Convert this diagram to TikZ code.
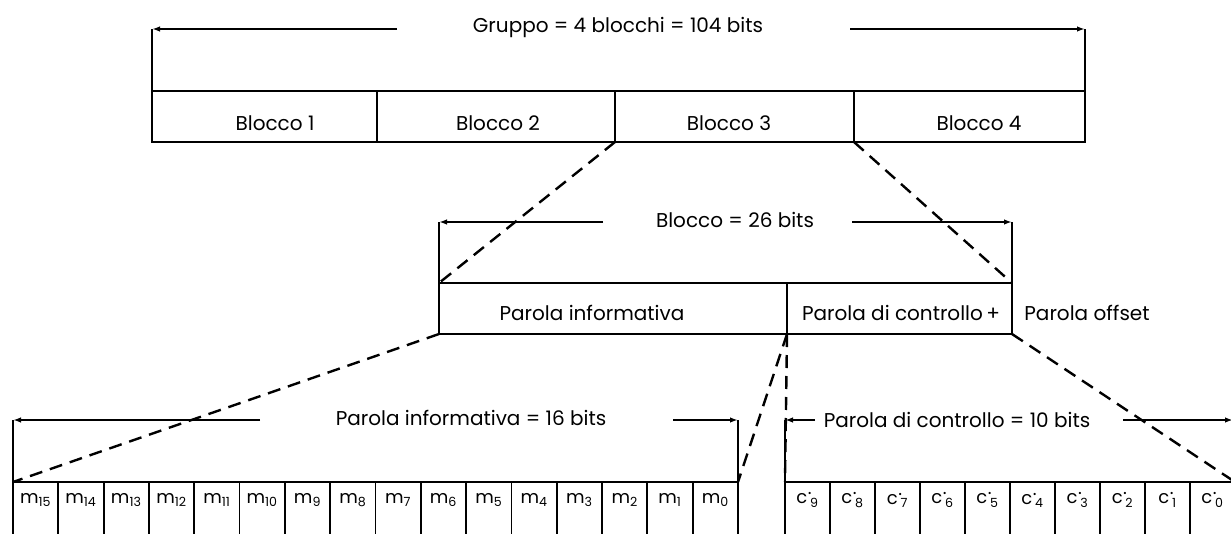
\documentclass[tikz,border=0pt]{standalone}
\usepackage{fontspec}
\setmainfont{Poppins}
\usetikzlibrary{arrows.meta}
\newcommand{\cprime}[1]{c\kern0.5pt\raisebox{0.5em}{.}\kern-1.5pt\textsubscript{#1}}
\begin{document}
\begin{tikzpicture}[x=1pt,y=-1pt,line width=1.8pt,
  boxnode/.style={draw, anchor=north west, inner sep=0pt, outer sep=0pt},
  lbl/.style={font=\fontsize{20}{22}\selectfont, inner sep=0pt},
  cellfont/.style={font=\fontsize{18}{20}\selectfont, inner sep=0pt},
  dimline/.style={line width=1.8pt, -{Latex[length=8pt,width=5.5pt]}},
  dashline/.style={line width=2.4pt, dash pattern=on 13pt off 8pt}]
\useasboundingbox (0,0) rectangle (1231,533);
% ---------- top row ----------
\node[boxnode, minimum width=225pt, minimum height=51pt] (b1) at (152,91) {};
\node[boxnode, minimum width=238pt, minimum height=51pt] (b2) at (377,91) {};
\node[boxnode, minimum width=239pt, minimum height=51pt] (b3) at (615,91) {};
\node[boxnode, minimum width=231pt, minimum height=51pt] (b4) at (854,91) {};
\node[lbl] (l1) at (275,123) {Blocco 1};
\node[lbl] (l2) at (498,123) {Blocco 2};
\node[lbl] (l3) at (729,123) {Blocco 3};
\node[lbl] (l4) at (979,123) {Blocco 4};
\node[lbl] (gt) at (618,27) {Gruppo = 4 blocchi = 104 bits};
\coordinate (g1) at (152,29);
\coordinate (g2) at (1085,29);
\coordinate (ga) at (397,29);
\coordinate (gb) at (850,29);
\draw (b1.north west) -- (g1);
\draw (b4.north east) -- (g2);
\draw[dimline] (ga) -- (g1);
\draw[dimline] (gb) -- (g2);
% ---------- middle row ----------
\node[boxnode, minimum width=348pt, minimum height=51pt] (pi) at (439,283) {};
\node[boxnode, minimum width=225pt, minimum height=51pt] (pc) at (787,283) {};
\node[lbl] (pit) at (592,313) {Parola informativa};
\node[lbl] (pct) at (901,313) {Parola di controllo\,+};
\node[lbl] (pot) at (1087,313) {Parola offset};
\node[lbl] (bt) at (735,220) {Blocco = 26 bits};
\coordinate (h1) at (439,222);
\coordinate (h2) at (1012,222);
\coordinate (ha) at (603,222);
\coordinate (hb) at (852,222);
\draw (pi.north west) -- (h1);
\draw (pc.north east) -- (h2);
\draw[dimline] (ha) -- (h1);
\draw[dimline] (hb) -- (h2);
% ---------- bottom rows ----------
\foreach \i in {0,...,15}{
  \pgfmathtruncatemacro{\k}{15-\i}
  \node[boxnode, minimum width=45.3125pt, minimum height=80pt] (m\k) at ({13+45.3125*\i},482) {};
  \node[cellfont] (mt\k) at ({13+45.3125*\i+22.6},500) {m\textsubscript{\k}};
}
\foreach \i in {0,...,9}{
  \pgfmathtruncatemacro{\k}{9-\i}
  \node[boxnode, minimum width=45pt, minimum height=80pt] (c\k) at ({785+45*\i},482) {};
  \node[cellfont] (ct\k) at ({785+45*\i+22.5},500) {\cprime{\k}};
}
\node[lbl] (it) at (471,418) {Parola informativa = 16 bits};
\node[lbl] (ctt) at (957,420) {Parola di controllo = 10 bits};
\coordinate (k1) at (13,420);
\coordinate (k2) at (738,420);
\coordinate (ka) at (260,420);
\coordinate (kb) at (673,420);
\draw (m15.north west) -- (k1);
\draw (m0.north east) -- (k2);
\draw[dimline] (ka) -- (k1);
\draw[dimline] (kb) -- (k2);
\coordinate (n1) at (785,420);
\coordinate (n2) at (1233,420);
\coordinate (na) at (815,420);
\coordinate (nb) at (1123,420);
\draw (c9.north west) -- (n1);
\draw[dimline] (na) -- (n1);
\draw[dimline] (nb) -- (n2);
% ---------- dashed expansion lines ----------
\draw[dashline] (b2.south east) -- (pi.north west);
\draw[dashline] (b3.south east) -- (pc.north east);
\draw[dashline] (pi.south west) -- (m15.north west);
\draw[dashline] (pi.south east) -- (m0.north east);
\draw[dashline] (pi.south east) -- (c9.north west);
\draw[dashline] (pc.south east) -- (c0.north east);
\end{tikzpicture}
\end{document}
